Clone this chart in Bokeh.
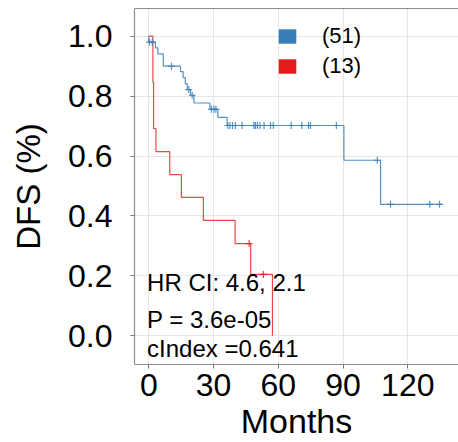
from bokeh.plotting import figure
from bokeh.models import (Range1d, FixedTicker, PrintfTickFormatter, Legend,
                          LegendItem, Label, LinearAxis)
from bokeh.embed import file_html
from bokeh.resources import INLINE

# ---- data ----
blue_times = [0, 0, 3.1, 4.2, 6.7, 14.7, 15.9, 16.9, 17.8, 19.3, 20.9, 28.3, 32.0, 36.3, 90.4, 107.4, 136.0]
blue_surv = [1.0, 0.980, 0.961, 0.941, 0.900, 0.882, 0.862, 0.841, 0.822, 0.803, 0.777, 0.756, 0.729, 0.702, 0.586, 0.439, 0.439]
blue_cens_t = [0.3, 1.6, 10.5, 18.5, 20.1, 29.0, 30.2, 31.1,
               36.6, 37.6, 38.8, 40.1, 43.2, 48.7, 49.4, 50.3, 51.5, 53.4,
               56.4, 57.7, 66.0, 70.9, 74.0, 74.9, 86.9, 105.9, 112.0, 130.2, 134.7]
blue_cens_s = [0.980, 0.980, 0.900, 0.822, 0.803, 0.756, 0.756, 0.756,
               0.702, 0.702, 0.702, 0.702, 0.702, 0.702, 0.702, 0.702, 0.702, 0.702,
               0.702, 0.702, 0.702, 0.702, 0.702, 0.702, 0.702, 0.586, 0.439, 0.439, 0.439]

red_times = [0, 1.9, 2.2, 3.3, 9.7, 15.1, 25.3, 40.0, 47.2, 57.3]
red_surv = [1.0, 0.846, 0.692, 0.615, 0.538, 0.462, 0.385, 0.308, 0.205, 0.0]
red_cens_t = [46.5, 53.1]
red_cens_s = [0.308, 0.205]

group_labels = ["(51)", "(13)"]
group_colors = ["#377EB8", "#E41A1C"]

x_ticks = [0, 30, 60, 90, 120]
y_ticks = [0.0, 0.2, 0.4, 0.6, 0.8, 1.0]

stats_text = ["HR CI: 4.6, 2.1", "P = 3.6e-05", "cIndex =0.641"]
stats_y = [0.179, 0.053, -0.043]

x_title = "Months"
y_title = "DFS (%)"

FONT = "Liberation Sans"
NAN = float("nan")
BORDER = "#8c8c8c"

p = figure(width=458, height=442, output_backend="svg", toolbar_location=None,
           x_range=Range1d(-6.63, 143.5), y_range=Range1d(-0.0958, 1.0925),
           min_border_left=134, min_border_right=0, min_border_top=8, min_border_bottom=78)

p.background_fill_color = "white"
p.border_fill_color = "white"
p.outline_line_color = None

# grid
p.xgrid.ticker = FixedTicker(ticks=x_ticks)
p.ygrid.ticker = FixedTicker(ticks=y_ticks)
for g in (p.xgrid, p.ygrid):
    g.grid_line_color = "#E6E6E6"
    g.grid_line_width = 1

# axes
p.xaxis.ticker = FixedTicker(ticks=x_ticks)
p.yaxis.ticker = FixedTicker(ticks=y_ticks)
p.yaxis.formatter = PrintfTickFormatter(format="%.1f")
p.xaxis.axis_label = x_title
p.yaxis.axis_label = y_title
for ax in (p.xaxis, p.yaxis):
    ax.axis_line_color = BORDER
    ax.axis_line_width = 1.2
    ax.major_tick_line_color = "#777777"
    ax.major_tick_in = 0
    ax.major_tick_out = 4
    ax.minor_tick_line_color = None
    ax.major_label_text_font = FONT
    ax.major_label_text_color = "black"
    ax.major_label_text_font_size = "32px"
    ax.axis_label_text_font = FONT
    ax.axis_label_text_font_style = "normal"
    ax.axis_label_text_color = "black"
p.xaxis.axis_label_text_font_size = "34px"
p.yaxis.axis_label_text_font_size = "33px"
p.xaxis.major_label_standoff = 5
p.xaxis.axis_label_standoff = 3
p.yaxis.major_label_standoff = 18
p.yaxis.axis_label_standoff = 18

# top border line of the panel (right side is cut off in the reference)
top_axis = LinearAxis(ticker=FixedTicker(ticks=[]), axis_line_color=BORDER, axis_line_width=1.2,
                      major_tick_line_color=None, minor_tick_line_color=None,
                      major_tick_out=0, major_label_standoff=0, major_label_text_font_size="0px")
p.add_layout(top_axis, "above")

# curves
p.step(x=blue_times, y=blue_surv, mode="after", line_color=group_colors[0], line_width=1.2, line_alpha=0.85)
p.step(x=red_times, y=red_surv, mode="after", line_color=group_colors[1], line_width=1.2, line_alpha=0.8)
p.scatter(x=blue_cens_t, y=blue_cens_s, marker="cross", size=7, line_color=group_colors[0], line_width=1.2, line_alpha=0.85)
p.scatter(x=red_cens_t, y=red_cens_s, marker="cross", size=7, line_color=group_colors[1], line_width=1.2, line_alpha=0.8)

# legend keys (area glyphs with no visible data, used only for the legend)
leg_items = []
for lab, col in zip(group_labels, group_colors):
    r = p.quad(left=[NAN], right=[NAN], top=[NAN], bottom=[NAN], fill_color=col, line_color=None)
    leg_items.append(LegendItem(label=lab, renderers=[r]))
legend = Legend(items=leg_items, location=(142, 285),
                glyph_width=22, glyph_height=18, label_standoff=24, spacing=4,
                padding=0, margin=0, border_line_color=None, background_fill_alpha=0,
                label_text_font=FONT, label_text_font_size="22px", label_text_color="black")
p.add_layout(legend)

# statistics text
for t, yy in zip(stats_text, stats_y):
    p.add_layout(Label(x=-0.8, y=yy, text=t, text_font=FONT, text_font_size="24px",
                       text_color="black", text_align="left", text_baseline="alphabetic"))

open("out.html", "w").write(file_html(p, INLINE))
